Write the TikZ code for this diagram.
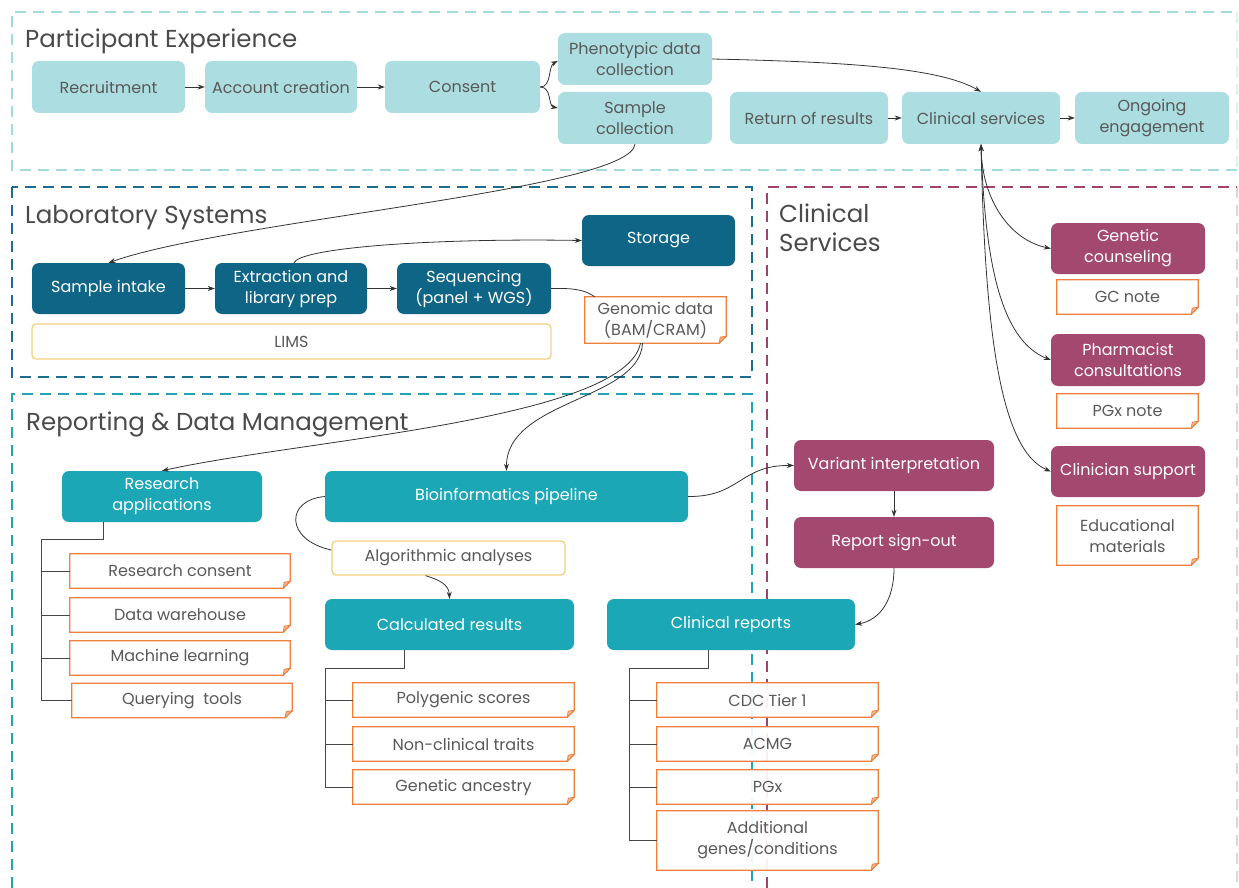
\documentclass[tikz,border=0pt]{standalone}
\usepackage{fontspec}
\setmainfont{Poppins}
\usetikzlibrary{arrows.meta}
\definecolor{pefill}{HTML}{ACDDE0}
\definecolor{peline}{HTML}{A3DADD}
\definecolor{labfill}{HTML}{0E6585}
\definecolor{labline}{HTML}{1D6E8E}
\definecolor{repfill}{HTML}{1CA7B6}
\definecolor{repline}{HTML}{21A5B5}
\definecolor{csfill}{HTML}{A3486F}
\definecolor{csline}{HTML}{A0426E}
\definecolor{docorange}{HTML}{F0803C}
\definecolor{docfold}{HTML}{F7B48F}
\definecolor{yellowline}{HTML}{F5D07E}
\definecolor{txtgray}{HTML}{595959}
\definecolor{titlegray}{HTML}{4A4A4A}
\definecolor{arrowc}{HTML}{333333}
\newcommand{\docshape}[1]{%
  \draw[docline] (#1.north west) -- (#1.north east) -- ([yshift=7pt]#1.south east) -- ([xshift=-7pt]#1.south east) -- (#1.south west) -- cycle;
  \filldraw[docline, line width=0.8pt, fill=docfold] ([yshift=7pt]#1.south east) -- ([xshift=-7pt]#1.south east) -- ([xshift=-6pt,yshift=6pt]#1.south east) -- cycle;}
\begin{document}
\begin{tikzpicture}[x=1pt,y=-1pt,
  sz/.style 2 args={minimum width=#1pt, minimum height=#2pt},
  box/.style={rounded corners=7pt, inner sep=0pt, align=center, font=\fontsize{16}{21}\selectfont},
  pebox/.style={box, fill=pefill, text=txtgray},
  labbox/.style={box, fill=labfill, text=white},
  repbox/.style={box, fill=repfill, text=white},
  csbox/.style={box, fill=csfill, text=white},
  docbox/.style={inner sep=0pt, align=center, text=txtgray, fill=white, fill opacity=0.92, text opacity=1, font=\fontsize{16}{21}\selectfont},
  docline/.style={draw=docorange, line width=1.3pt, line join=miter},
  outlbox/.style={box, draw=yellowline, line width=1.3pt, rounded corners=4pt, fill=white, text=txtgray},
  frame/.style={line width=1.8pt, dash pattern=on 11pt off 7pt},
  title/.style={anchor=base west, inner sep=0pt, text=titlegray, font=\fontsize{24.5}{29}\selectfont, align=left},
  arr/.style={draw=arrowc, line width=0.8pt, -{Stealth[length=7pt,width=5pt]}},
  darr/.style={draw=arrowc, line width=0.8pt, {Stealth[length=7pt,width=5pt]}-{Stealth[length=7pt,width=5pt]}},
  tree/.style={draw=arrowc!90, line width=1pt}
]
\useasboundingbox (0,0) rectangle (1239,888);
% frames
\draw[frame, peline] (1237,170) -- (12,170) -- (12,12) -- (1237,12);
\draw[frame, peline, opacity=0.35] (1237,12) -- (1237,170);
\draw[frame, labline] (12,187) rectangle (752,377);
\draw[frame, csline] (767,888) -- (767,187) -- (1237,187);
\draw[frame, csline, opacity=0.25] (1237,187) -- (1237,888);
\draw[frame, repline] (12,888) -- (12,394) -- (752,394) -- (752,888);
% titles
\node[title] (tpe) at (25,48) {Participant Experience};
\node[title] (tls) at (25,223) {Laboratory Systems};
\node[title] (tcs) at (779,251) {Clinical\\Services};
\node[title] (trd) at (26,430) {Reporting \& Data Management};
% participant experience
\node[pebox, sz={153}{52}] (rec) at (108.5,87) {Recruitment};
\node[pebox, sz={152}{52}] (acc) at (281,87) {Account creation};
\node[pebox, sz={155}{52}] (con) at (462.5,87) {Consent};
\node[pebox, sz={154}{52}] (phe) at (635,59) {Phenotypic data\\collection};
\node[pebox, sz={154}{52}] (sam) at (635,118) {Sample\\collection};
\node[pebox, sz={158}{52}] (ret) at (809,118) {Return of results};
\node[pebox, sz={158}{52}] (cli) at (981,118) {Clinical services};
\node[pebox, sz={154}{52}] (ong) at (1152,118) {Ongoing\\engagement};
% laboratory
\node[labbox, sz={153}{51}] (sin) at (108.5,288.5) {Sample intake};
\node[labbox, sz={152}{51}] (ext) at (291,288.5) {Extraction and\\library prep};
\node[labbox, sz={154}{51}] (seq) at (474,288.5) {Sequencing\\(panel + WGS)};
\node[labbox, sz={153}{51}] (sto) at (658.5,240.5) {Storage};
\node[outlbox, sz={519}{35}] (lims) at (291.5,341.5) {LIMS};
\node[docbox, sz={141}{46}] (gen) at (655.5,320) {Genomic data\\(BAM/CRAM)};
% clinical services
\node[csbox, sz={154}{51}] (gc) at (1128,248.5) {Genetic\\counseling};
\node[docbox, sz={141}{34}] (gcn) at (1127.5,297) {GC note};
\node[csbox, sz={154}{52}] (ph) at (1128,360) {Pharmacist\\consultations};
\node[docbox, sz={141}{34}] (pgn) at (1127.5,411) {PGx note};
\node[csbox, sz={154}{51}] (cs) at (1128,471.5) {Clinician support};
\node[docbox, sz={141}{59}] (edu) at (1127.5,535.5) {Educational\\materials};
\node[csbox, sz={200}{51}] (vi) at (894,465.5) {Variant interpretation};
\node[csbox, sz={200}{51}] (rso) at (894,542.5) {Report sign-out};
% reporting
\node[repbox, sz={200}{51}] (ra) at (162,496.5) {Research\\applications};
\node[repbox, sz={363}{51}] (bio) at (506.5,496.5) {Bioinformatics pipeline};
\node[outlbox, sz={233}{34}] (alg) at (448.5,558) {Algorithmic analyses};
\node[repbox, sz={249}{51}] (calc) at (449.5,624.5) {Calculated results};
\node[repbox, sz={248}{51}] (crep) at (731,624.5) {Clinical reports};
\node[docbox, sz={220}{34}] (rc) at (180,571) {Research consent};
\node[docbox, sz={220}{34}] (dw) at (180,615) {Data warehouse};
\node[docbox, sz={220}{34}] (ml) at (180,658) {Machine learning};
\node[docbox, sz={220}{34}] (qt) at (182,700.5) {Querying~ tools};
\node[docbox, sz={221}{34}] (ps) at (463.5,700) {Polygenic scores};
\node[docbox, sz={221}{34}] (nct) at (463.5,744) {Non-clinical traits};
\node[docbox, sz={221}{34}] (ga) at (463.5,787) {Genetic ancestry};
\node[docbox, sz={221}{34}] (cdc) at (767.5,700) {CDC Tier 1};
\node[docbox, sz={221}{34}] (acmg) at (767.5,744) {ACMG};
\node[docbox, sz={221}{34}] (pgx) at (767.5,787) {PGx};
\node[docbox, sz={221}{59}] (add) at (767.5,840.5) {Additional\\genes/conditions};
\foreach \n in {gen,gcn,pgn,edu,rc,dw,ml,qt,ps,nct,ga,cdc,acmg,pgx,add} {\docshape{\n}}
% straight arrows
\draw[arr] (rec) -- (acc);
\draw[arr] (acc) -- (con);
\draw[arr] (ret) -- (cli);
\draw[arr] (cli) -- (ong);
\draw[arr] (sin) -- (ext);
\draw[arr] (ext) -- (seq);
\draw[arr] (vi) -- (rso);
% curved arrows
\draw[arr] (con.east) .. controls (552,87) and (548,66) .. ([yshift=-2pt]phe.west);
\draw[arr] (con.east) .. controls (552,87) and (548,106) .. ([yshift=10pt]sam.west);
\draw[arr] (phe.east) .. controls (850,62) and (940,68) .. (cli.north);
\draw[arr] (sam.south) .. controls (630,190) and (230,220) .. (sin.north);
\draw[arr] ([xshift=3pt]ext.north) .. controls (300,248) and (430,238) .. (sto.west);
\draw[draw=arrowc, line width=0.8pt] (seq.east) .. controls (575,288) and (585,290) .. ([xshift=10pt]gen.north west);
\draw[arr] ([xshift=-15pt]gen.south) .. controls (625,420) and (300,440) .. (ra.north);
\draw[arr] ([xshift=-13pt]gen.south) .. controls (640,400) and (506,400) .. (bio.north);
\draw[draw=arrowc, line width=0.8pt] (bio.west) .. controls (285,500) and (285,540) .. ([yshift=8pt]alg.west);
\draw[arr] ([xshift=-23pt]alg.south) .. controls (440,580) and (449,585) .. (calc.north);
\draw[arr] (bio.east) .. controls (740,497) and (740,465) .. (vi.west);
\draw[arr] (rso.south) .. controls (894,600) and (880,620) .. (crep.east);
\draw[darr] (cli.south) .. controls (982,200) and (1010,240) .. (gc.west);
\draw[darr] (cli.south) .. controls (985,260) and (1000,340) .. (ph.west);
\draw[darr] (cli.south) .. controls (985,330) and (1000,450) .. (cs.west);
% trees
\coordinate (rt) at (41,539);
\draw[tree] ([xshift=-59pt]ra.south) |- (rt) -- (rt |- qt.west);
\foreach \n in {rc,dw,ml,qt} {\draw[tree] (rt |- \n.west) -- (\n.west);}
\coordinate (ct) at (325,668);
\draw[tree] ([xshift=-45.5pt]calc.south) |- (ct) -- (ct |- ga.west);
\foreach \n in {ps,nct,ga} {\draw[tree] (ct |- \n.west) -- (\n.west);}
\coordinate (kt) at (629,668);
\draw[tree] ([xshift=-23pt]crep.south) |- (kt) -- (kt |- add.west);
\foreach \n in {cdc,acmg,pgx,add} {\draw[tree] (kt |- \n.west) -- (\n.west);}
\end{tikzpicture}
\end{document}
